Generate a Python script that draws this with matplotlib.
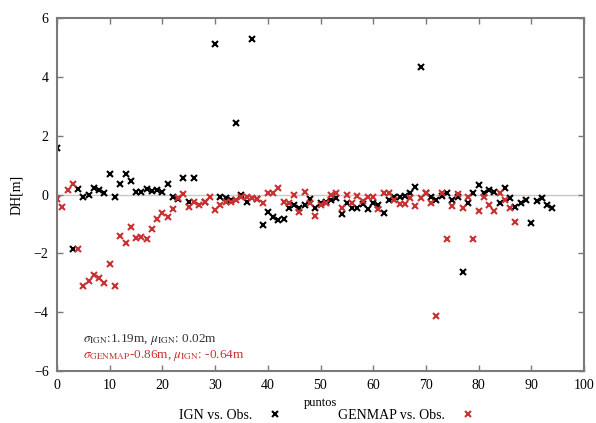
import matplotlib
matplotlib.use("Agg")
import matplotlib.pyplot as plt

plt.rcParams['font.family'] = ['Liberation Serif', 'DejaVu Serif']
plt.rcParams['mathtext.fontset'] = 'stix'

# IGN vs. Obs. (black)
ign_x = [0, 3, 4, 5, 6, 7, 8, 9, 10, 11, 12, 13, 14, 15, 16, 17, 18, 19, 20, 21,
         22, 23, 24, 25, 26, 28, 30, 31, 32, 33, 34, 35, 36, 37, 38, 39, 40, 41, 42, 43,
         44, 45, 46, 47, 48, 49, 50, 51, 52, 53, 54, 55, 56, 57, 58, 59, 60, 61, 62, 63,
         64, 65, 66, 67, 68, 69, 70, 71, 72, 73, 74, 75, 76, 77, 78, 79, 80, 81, 82, 83,
         84, 85, 86, 87, 88, 89, 90, 91, 92, 93, 94]
ign_y = [1.57, -1.86, 0.17, -0.07, -0.02, 0.21, 0.15, 0.04, 0.69, -0.10, 0.35, 0.69, 0.46, 0.07, 0.07, 0.19, 0.13, 0.15, 0.07, 0.35,
         -0.10, -0.16, 0.57, -0.27, 0.57, -0.24, 5.12, -0.07, -0.13, -0.20, 2.44, 0.00, -0.24, 5.29, -0.15, -1.05, -0.58, -0.75, -0.85, -0.83,
         -0.47, -0.36, -0.47, -0.36, -0.16, -0.47, -0.30, -0.24, -0.19, -0.13, -0.66, -0.30, -0.47, -0.47, -0.32, -0.50, -0.30, -0.36, -0.62, -0.19,
         -0.10, -0.10, -0.05, 0.06, 0.27, 4.35, 0.06, -0.07, -0.19, -0.05, 0.06, -0.19, -0.10, -2.62, -0.30, 0.06, 0.32, 0.06, 0.15, 0.10,
         -0.30, 0.23, -0.13, -0.41, -0.28, -0.19, -0.98, -0.22, -0.11, -0.36, -0.45]

# GENMAP vs. Obs. (red)
gen_x = list(range(0, 88))
gen_y = [-0.16, -0.41, 0.15, 0.35, -1.86, -3.10, -2.94, -2.72, -2.83, -3.00, -2.35, -3.10, -1.41, -1.64, -1.11, -1.49, -1.43, -1.52, -1.18, -0.84,
         -0.64, -0.75, -0.50, -0.13, 0.02, -0.41, -0.27, -0.36, -0.24, -0.10, -0.53, -0.36, -0.24, -0.24, -0.19, -0.10, -0.10, -0.13, -0.16, -0.30,
         0.06, 0.06, 0.21, -0.24, -0.30, -0.02, -0.58, 0.10, -0.30, -0.73, -0.36, -0.30, -0.02, 0.04, -0.47, -0.02, -0.30, -0.05, -0.21, -0.10,
         -0.10, -0.50, 0.06, 0.06, -0.20, -0.32, -0.32, -0.13, -0.39, -0.13, 0.06, -0.30, -4.12, 0.04, -1.51, -0.39, 0.02, -0.47, -0.07, -1.51,
         -0.57, -0.09, -0.36, -0.56, 0.04, -0.19, -0.47, -0.92]

xticks = [0, 10, 20, 30, 40, 50, 60, 70, 80, 90, 100]
yticks = [-6, -4, -2, 0, 2, 4, 6]

red = '#c83232'
frame = '#7a7a7a'

fig = plt.figure(figsize=(5.96, 4.23), dpi=100)
ax = fig.add_axes([57/596, 1-371/423, (584-57)/596, (371-18)/423])

ax.axhline(0, color='#c8c8c8', lw=1.0, zorder=0)
ax.plot(ign_x, ign_y, ls='none', marker='x', ms=5, mew=1.5, color='black', label='IGN vs. Obs.')
ax.plot(gen_x, gen_y, ls='none', marker='x', ms=5, mew=1.5, color=red, label='GENMAP vs. Obs.')

ax.set_xlim(0, 100)
ax.set_ylim(-6, 6)
ax.set_xticks(xticks)
ax.set_yticks(yticks)
ax.tick_params(direction='in', top=True, right=True, length=4, width=1, color=frame, labelsize=10, pad=6)
for s in ax.spines.values():
    s.set_color(frame)
    s.set_linewidth(1.5)

ax.set_ylabel('DH[m]', fontsize=10, labelpad=8)
ax.set_xlabel('puntos', fontsize=9, labelpad=3)

ax.text(4.9, -4.92, r'$\sigma_{\rm IGN}$:1.19m, $\mu_{\rm IGN}$: 0.02m', fontsize=9.5, color='#333333', va='center')
ax.text(4.9, -5.48, r'$\sigma_{\rm GENMAP}$-0.86m, $\mu_{\rm IGN}$: -0.64m', fontsize=9.5, color=red, va='center')

fig.legend(loc='center', bbox_to_anchor=(327/596, 1-415/423), ncol=2, frameon=False,
           markerfirst=False, fontsize=10, columnspacing=4.0, handletextpad=1.2, handlelength=1.0)

fig.savefig('out.png', dpi=100)
